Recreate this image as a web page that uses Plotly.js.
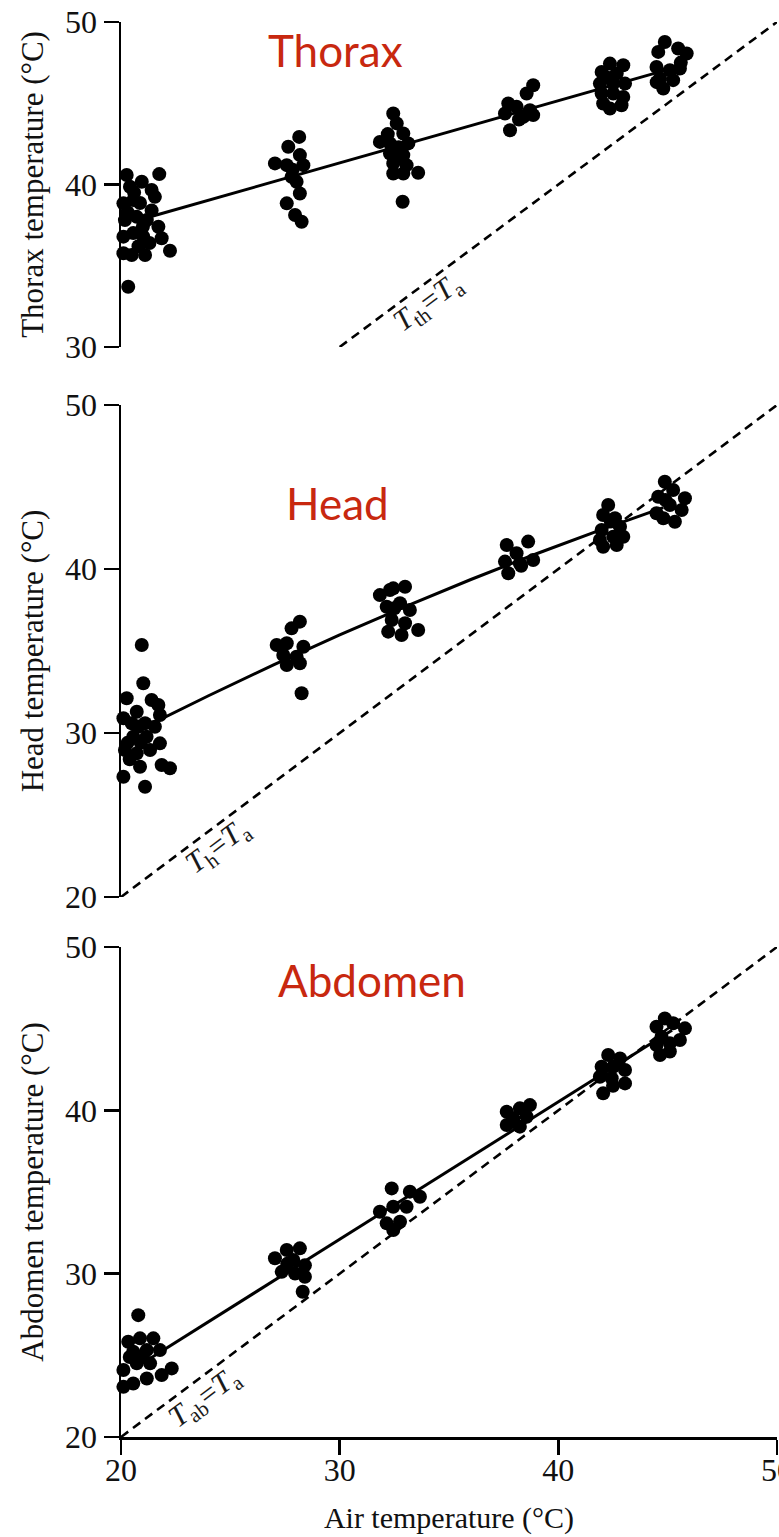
<!DOCTYPE html>
<html>
<head>
<meta charset="utf-8">
<script src="https://cdn.plot.ly/plotly-3.0.1.min.js"></script>
<style>html,body{margin:0;padding:0;background:#fff;overflow:hidden}#chart{width:779px;height:1537px}</style>
</head>
<body>
<div id="chart"></div>
<script>
// ---- Data ----
const panelTitles = ["Thorax", "Head", "Abdomen"];
const yTitles = ["Thorax temperature (°C)", "Head temperature (°C)", "Abdomen temperature (°C)"];
const xTitle = "Air temperature (°C)";
const xTicks = [20, 30, 40, 50];
const yTicksThorax = [30, 40, 50];
const yTicksHead = [20, 30, 40, 50];
const yTicksAbd = [20, 30, 40, 50];
const identityLabels = ["<i>T</i><sub>th</sub>=<i>T</i><sub>a</sub>", "<i>T</i><sub>h</sub>=<i>T</i><sub>a</sub>", "<i>T</i><sub>ab</sub>=<i>T</i><sub>a</sub>"];

const thoraxTa = [20.26,20.95,21.75,21.40,21.55,20.11,20.56,20.87,20.18,20.72,21.18,21.71,20.11,20.56,21.02,21.86,20.11,20.49,21.10,22.24,20.33,20.41,20.30,21.00,20.80,21.40,20.60,21.30,
  28.15,27.65,28.18,27.04,27.58,28.34,27.80,28.03,28.18,27.58,27.96,28.26,27.85,
  32.45,32.61,32.91,31.84,32.30,33.14,32.30,32.91,32.45,33.06,32.45,32.91,33.59,32.88,32.20,32.70,32.60,
  38.85,38.55,37.71,38.09,38.70,37.56,38.40,38.85,37.79,38.20,
  42.36,42.97,41.98,42.67,41.90,42.51,43.05,41.98,42.51,42.97,42.05,42.36,42.89,42.20,
  44.87,44.57,45.48,45.87,44.49,45.10,45.56,44.65,45.25,44.80,44.50,45.60];
const thoraxT = [40.58,40.17,40.64,39.66,39.24,38.84,39.04,38.86,37.81,38.01,37.81,37.40,36.79,37.01,36.79,36.69,35.77,35.66,35.66,35.92,33.71,39.86,38.30,37.40,36.20,38.40,39.50,36.40,
  42.93,42.32,41.81,41.30,41.19,41.19,40.47,40.17,39.45,38.84,38.12,37.71,40.90,
  44.37,43.76,43.14,42.62,42.53,42.53,41.91,41.81,41.30,41.19,40.68,40.68,40.72,38.94,43.10,42.30,41.60,
  46.11,45.60,44.98,44.78,44.57,44.37,44.16,44.27,43.34,44.00,
  47.44,47.34,46.93,46.83,46.21,46.21,46.21,45.60,45.60,45.39,44.98,44.68,44.88,46.60,
  48.77,48.16,48.37,48.06,47.23,47.03,47.14,46.52,46.42,45.91,46.30,47.50];

const headTa = [20.95,21.02,20.26,21.40,21.71,20.11,20.72,21.78,20.49,21.10,21.55,19.95,20.56,21.17,21.78,20.18,20.72,21.33,20.87,21.86,22.24,20.11,21.10,20.40,20.30,20.90,20.80,
  28.18,27.80,27.12,27.58,28.34,27.42,28.03,27.58,28.18,28.26,
  31.84,32.45,32.99,32.15,32.76,33.21,32.38,32.99,32.22,32.83,33.59,32.50,32.30,
  37.64,38.62,38.09,37.56,38.24,38.85,37.71,38.30,
  42.28,42.05,42.59,41.98,42.82,41.90,42.51,42.97,42.05,42.67,42.40,
  44.87,44.57,45.25,45.79,44.49,45.10,45.64,44.80,45.33,44.90];
const headT = [35.37,33.03,32.12,32.01,31.71,30.90,31.30,31.10,30.59,30.59,30.38,29.77,29.77,29.77,29.37,28.96,28.76,28.96,27.94,28.05,27.85,27.33,26.72,28.40,29.40,29.40,30.40,
  36.79,36.38,35.37,35.47,35.26,34.76,34.65,34.15,34.25,32.42,
  38.41,38.82,38.92,37.70,37.91,37.50,36.89,36.69,36.18,35.98,36.28,37.60,38.72,
  41.46,41.67,40.96,40.45,40.34,40.55,39.74,40.20,
  43.90,43.29,43.09,42.38,42.58,41.77,41.97,41.97,41.36,41.46,42.90,
  45.32,44.41,44.82,44.31,43.40,43.90,43.60,43.09,42.88,44.20];

const abdTa = [20.79,20.33,20.87,21.48,20.56,21.18,21.78,20.11,20.72,21.33,22.32,21.86,20.11,20.56,21.18,20.40,21.00,
  27.04,27.58,28.18,27.88,28.41,27.35,27.96,28.41,28.31,27.60,
  32.38,33.21,33.67,31.84,32.45,33.06,32.15,32.76,32.45,
  37.64,38.24,38.70,37.94,38.55,37.64,38.24,37.90,
  42.28,42.82,41.98,42.51,43.05,41.90,42.44,43.05,42.05,42.50,
  44.87,44.49,45.25,45.79,44.72,45.56,44.49,45.10,44.65,45.10];
const abdT = [27.46,25.83,26.04,26.04,25.22,25.32,25.32,24.10,24.51,24.51,24.20,23.79,23.07,23.28,23.58,24.90,24.90,
  30.94,31.45,31.55,30.84,30.51,30.11,30.01,29.81,28.89,30.60,
  35.22,35.02,34.71,33.79,34.10,34.10,33.08,33.18,32.67,
  39.91,40.12,40.32,39.51,39.61,39.10,39.00,39.30,
  43.39,43.18,42.67,42.67,42.47,42.06,41.96,41.65,41.04,41.50,
  45.63,45.12,45.33,45.02,44.51,44.31,44.00,44.10,43.39,43.60];

// fitted regression curves
const thoraxFitX = [21.3, 45.6];
const thoraxFitY = [38.0, 47.3];
const headFitX = [21.2, 24, 27, 30, 33, 36, 39, 42, 44.8];
const headFitY = [30.43, 32.27, 34.17, 35.98, 37.71, 39.36, 40.93, 42.42, 43.74];
const abdFitX = [21.2, 45.2];
const abdFitY = [24.7, 44.9];

// identity lines Tb = Ta
const thoraxIdent = [30, 50];
const headIdent = [20, 50];
const abdIdent = [20, 50];

// ---- Styling ----
const serif = "Liberation Serif";
const red = "#c8280f";
const dashLine = {color: "#000", width: 2.6, dash: "9px,6px"};
const fitLine = {color: "#000", width: 3};
const dot = {color: "#000", size: 14};

function traces(ident, fx, fy, px, py, ya) {
  return [
    {x: ident, y: ident, xaxis: "x", yaxis: ya, mode: "lines", line: dashLine, hoverinfo: "skip", cliponaxis: false},
    {x: fx, y: fy, xaxis: "x", yaxis: ya, mode: "lines", line: fitLine, hoverinfo: "skip", cliponaxis: false},
    {x: px, y: py, xaxis: "x", yaxis: ya, mode: "markers", marker: dot, cliponaxis: false}
  ];
}

const data = [].concat(
  traces(thoraxIdent, thoraxFitX, thoraxFitY, thoraxTa, thoraxT, "y"),
  traces(headIdent, headFitX, headFitY, headTa, headT, "y2"),
  traces(abdIdent, abdFitX, abdFitY, abdTa, abdT, "y3")
);

function yAxis(range, ticks, title, domain) {
  return {
    range: range, tickvals: ticks, domain: domain, anchor: "x",
    showline: true, linecolor: "#000", linewidth: 2.5,
    ticks: "outside", ticklen: 15, tickwidth: 2.5, tickcolor: "#000",
    showgrid: false, zeroline: false, automargin: false,
    tickfont: {family: serif, size: 32, color: "#111"},
    title: {text: title, font: {family: serif, size: 31, color: "#111"}, standoff: 12}
  };
}

const H = 1415;
const layout = {
  width: 779, height: 1537,
  margin: {l: 121, r: 2, t: 22, b: 100},
  paper_bgcolor: "#fff", plot_bgcolor: "rgba(0,0,0,0)",
  showlegend: false,
  xaxis: {
    range: [20, 50], tickvals: xTicks, anchor: "y3",
    showline: true, linecolor: "#000", linewidth: 2.5,
    ticks: "outside", ticklen: 15, tickwidth: 2.5, tickcolor: "#000",
    ticklabelstandoff: -12, ticklabeloverflow: "allow",
    showgrid: false, zeroline: false, automargin: false,
    tickfont: {family: serif, size: 32, color: "#111"},
    title: {text: xTitle, font: {family: serif, size: 30, color: "#111"}, standoff: 20}
  },
  yaxis: yAxis([30, 50], yTicksThorax, yTitles[0], [(1437 - 347) / H, 1]),
  yaxis2: yAxis([20, 50], yTicksHead, yTitles[1], [(1437 - 897) / H, (1437 - 405) / H]),
  yaxis3: yAxis([20, 50], yTicksAbd, yTitles[2], [0, (1437 - 947) / H]),
  annotations: [
    {text: panelTitles[0], x: 29.79, y: 48.28, xref: "x", yref: "y", showarrow: false, font: {family: "Lato, sans-serif", size: 44, color: red}},
    {text: panelTitles[1], x: 29.88, y: 44.02, xref: "x", yref: "y2", showarrow: false, font: {family: "Lato, sans-serif", size: 44, color: red}},
    {text: panelTitles[2], x: 31.48, y: 47.98, xref: "x", yref: "y3", showarrow: false, font: {family: "Lato, sans-serif", size: 44, color: red}},
    {text: identityLabels[0], x: 34.08, y: 32.71, xref: "x", yref: "y", showarrow: false, textangle: -36.6, font: {family: serif, size: 30, color: "#1a1a1a"}},
    {text: identityLabels[1], x: 24.44, y: 23.05, xref: "x", yref: "y2", showarrow: false, textangle: -36.9, font: {family: serif, size: 30, color: "#1a1a1a"}},
    {text: identityLabels[2], x: 23.84, y: 22.38, xref: "x", yref: "y3", showarrow: false, textangle: -36.9, font: {family: serif, size: 30, color: "#1a1a1a"}}
  ]
};

Plotly.newPlot("chart", data, layout, {displayModeBar: false, staticPlot: true});
</script>
</body>
</html>
